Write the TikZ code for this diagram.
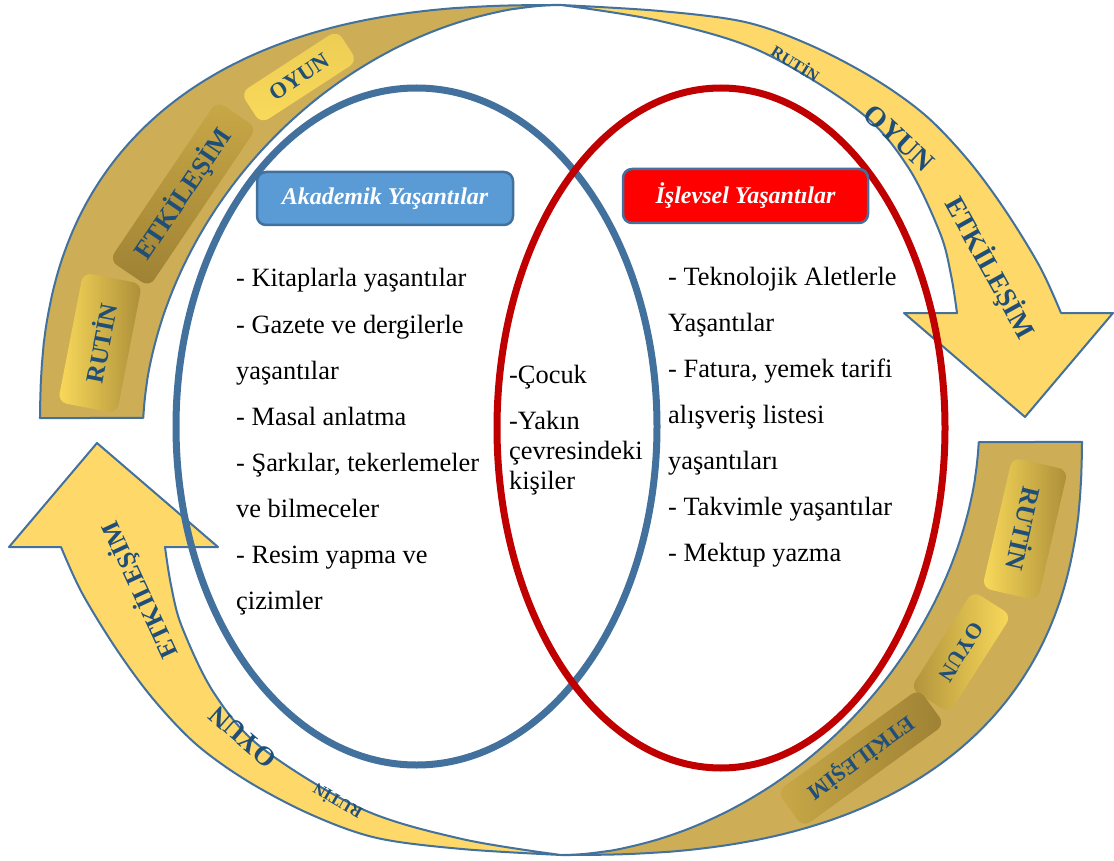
\documentclass[tikz,border=0pt]{standalone}
\usepackage{fontspec}
\setmainfont{Liberation Serif}
\definecolor{outl}{RGB}{65,113,156}
\definecolor{goldband}{RGB}{205,173,86}
\definecolor{yel}{RGB}{254,216,104}
\definecolor{ybright}{RGB}{250,218,90}
\definecolor{gdark}{RGB}{158,129,52}
\definecolor{gmid}{RGB}{200,168,70}
\definecolor{txtblue}{RGB}{31,78,121}
\definecolor{ellblue}{RGB}{65,113,156}
\definecolor{ellred}{RGB}{192,0,0}
\definecolor{boxblue}{RGB}{91,155,213}
\definecolor{boxred}{RGB}{255,0,0}
\tikzset{
  band/.style={fill=goldband, draw=outl, line width=2pt, line join=round},
  yarrow/.style={fill=yel, draw=outl, line width=2pt, line join=round},
  lbox/.style={rounded corners=9pt, inner sep=0pt, text=txtblue},
  wordart/.style={text=txtblue, inner sep=0pt},
  titlebox/.style={draw=outl, line width=2.5pt, rounded corners=9pt, text=white, inner sep=0pt,
    font=\fontsize{24}{28}\selectfont\bfseries\itshape},
  body/.style={anchor=base west, inner sep=0pt, font=\fontsize{26.4}{30}\selectfont},
}
\newcommand\ringhalf{%
  \begin{scope}[shift={(561,430)}]
    \filldraw[band] plot[domain=179.34:90, samples=90]
      ({-521*(max(-cos(\x),0.00001))^0.8},{-425*(max(sin(\x),0.00001))^0.8})
      -- plot[domain=90:177.9, samples=90]
      ({-418*(max(-cos(\x),0.00001))^1.081},{-425*(max(sin(\x),0.00001))^1.081}) -- cycle;
  \end{scope}
  \filldraw[yarrow] plot[smooth, tension=0.55] coordinates {(561,5) (660,11) (745,22) (810,45) (873,78) (925,115) (968,160) (1005,210) (1040,267) (1061,313)}
    -- (1113,313) -- (1025,417) -- (904,313)
    -- plot[smooth, tension=0.55] coordinates {(957,313) (951,275) (940,233) (908,167) (860,112) (760,51) (660,21) (561,5)} -- cycle;
}
\begin{document}
\begin{tikzpicture}[x=1pt, y=-1pt]
  \useasboundingbox (0,0) rectangle (1114,861);
  \fill[white] (0,0) rectangle (1114,861);

  % ring: top half and its 180 degree copy
  \ringhalf
  \begin{scope}[rotate around={180:(561,430)}]
    \ringhalf
  \end{scope}

  % boxes on the top-left band
  \node[lbox, rotate=79, minimum width=132pt, minimum height=60pt, left color=ybright, right color=gdark!85!ybright,
        font=\fontsize{25}{25}\selectfont\bfseries] (tlr) at (100,343) {RUTİN};
  \node[lbox, rotate=56, minimum width=192pt, minimum height=48pt, top color=gmid, bottom color=gdark,
        font=\fontsize{26.5}{26.5}\selectfont\bfseries] (tle) at (183,194) {ETKİLEŞİM};
  \node[lbox, rotate=33, minimum width=115pt, minimum height=37pt, top color=ybright!85!gdark, bottom color=ybright,
        font=\fontsize{22.5}{22.5}\selectfont\bfseries] (tlo) at (299,77) {OYUN};

  % boxes on the bottom-right band
  \node[lbox, rotate=-103, minimum width=134pt, minimum height=57pt, left color=ybright, right color=gdark!85!ybright,
        font=\fontsize{26}{26}\selectfont\bfseries] (brr) at (1025,529) {RUTİN};
  \node[lbox, rotate=-122.5, minimum width=116pt, minimum height=46pt, left color=gdark!80!ybright, right color=ybright,
        font=\fontsize{22}{22}\selectfont\bfseries] (bro) at (961,652) {OYUN};
  \node[lbox, rotate=-144, minimum width=175pt, minimum height=44pt, left color=gmid, right color=gdark,
        font=\fontsize{22}{22}\selectfont\bfseries] (bre) at (861,758) {ETKİLEŞİM};

  % words on the top-right arrow
  \node[wordart, rotate=-32, font=\fontsize{16.5}{16.5}\selectfont\bfseries] (trr) at (796,63) {RUTİN};
  \node[wordart, rotate=-43, font=\fontsize{28.5}{28.5}\selectfont\bfseries] (tro) at (899,138) {OYUN};
  \node[wordart, rotate=-61, font=\fontsize{27.4}{27.4}\selectfont\bfseries] (tre) at (990,268) {ETKİLEŞİM};

  % words on the bottom-left arrow
  \node[wordart, rotate=150, font=\fontsize{16.5}{16.5}\selectfont\bfseries] (blr) at (337,802) {RUTİN};
  \node[wordart, rotate=139, font=\fontsize{27}{27}\selectfont\bfseries] (blo) at (243,737) {OYUN};
  \node[wordart, rotate=115, font=\fontsize{25.7}{25.7}\selectfont\bfseries] (ble) at (140,590) {ETKİLEŞİM};

  % the two ellipses
  \draw[ellblue, line width=7pt] (416.5,426.5) ellipse [x radius=240.5pt, y radius=338.5pt];
  \draw[ellred, line width=7pt] (721,428) ellipse [x radius=224pt, y radius=340pt];

  % title boxes
  \node[titlebox, fill=boxblue, minimum width=256pt, minimum height=53pt] (ak) at (385,198.5) {Akademik Yaşantılar};
  \node[titlebox, fill=boxred, minimum width=245pt, minimum height=54pt] (is) at (745.5,196) {İşlevsel Yaşantılar};

  % left text
  \node[body] (l1) at (236,287) {- Kitaplarla yaşantılar};
  \node[body] (l2) at (236,333) {- Gazete ve dergilerle};
  \node[body] (l3) at (236,379) {yaşantılar};
  \node[body] (l4) at (236,425) {- Masal anlatma};
  \node[body] (l5) at (236,471) {- Şarkılar, tekerlemeler};
  \node[body] (l6) at (236,517) {ve bilmeceler};
  \node[body] (l7) at (236,563) {- Resim yapma ve};
  \node[body] (l8) at (236,609) {çizimler};

  % centre text
  \node[body] (c1) at (509,383) {-Çocuk};
  \node[body] (c2) at (509,429) {-Yakın};
  \node[body] (c3) at (509,459) {çevresindeki};
  \node[body] (c4) at (509,489) {kişiler};

  % right text
  \node[body] (r1) at (668,285) {- Teknolojik Aletlerle};
  \node[body] (r2) at (668,331) {Yaşantılar};
  \node[body] (r3) at (668,377) {- Fatura, yemek tarifi};
  \node[body] (r4) at (668,423) {alışveriş listesi};
  \node[body] (r5) at (668,469) {yaşantıları};
  \node[body] (r6) at (668,515) {- Takvimle yaşantılar};
  \node[body] (r7) at (668,561) {- Mektup yazma};
\end{tikzpicture}
\end{document}
